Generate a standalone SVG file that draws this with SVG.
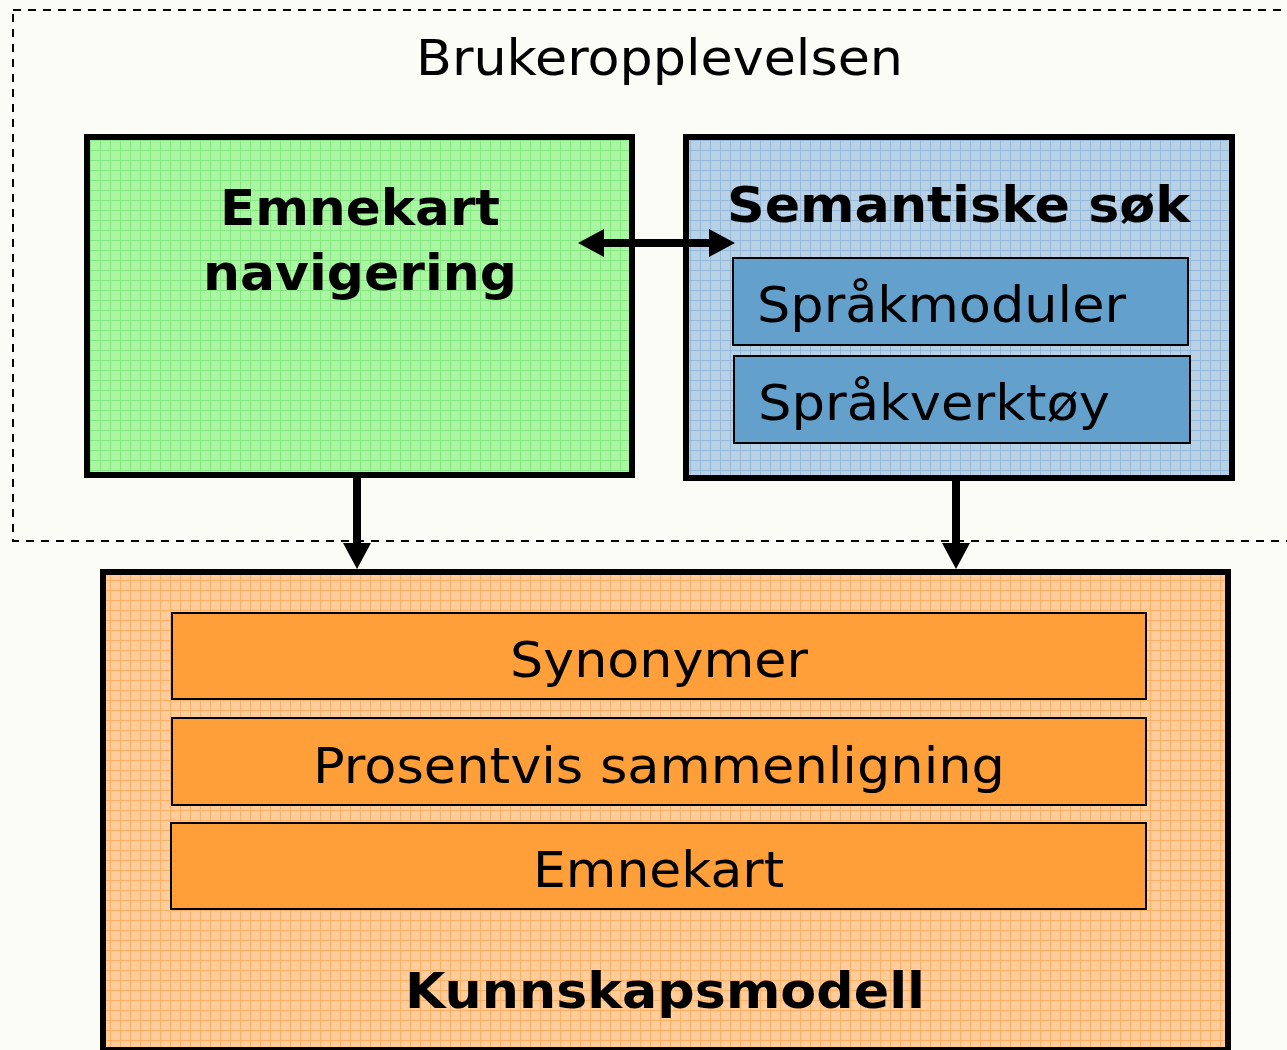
<svg xmlns="http://www.w3.org/2000/svg" width="1287" height="1050" viewBox="0 0 1287 1050">
<defs>
<pattern id="gGreen" width="10" height="10" patternUnits="userSpaceOnUse">
<rect width="10" height="10" fill="#AAF6A2"/>
<path d="M0 0.5H10M0.5 0V10" stroke="#86E880" stroke-width="1"/>
</pattern>
<pattern id="gBlue" width="10" height="10" patternUnits="userSpaceOnUse">
<rect width="10" height="10" fill="#B8D1E5"/>
<path d="M0 0.5H10M0.5 0V10" stroke="#94B9DA" stroke-width="1"/>
</pattern>
<pattern id="gOrange" width="10" height="10" patternUnits="userSpaceOnUse">
<rect width="10" height="10" fill="#FFCD9C"/>
<path d="M0 0.5H10M0.5 0V10" stroke="#FFB064" stroke-width="1"/>
</pattern>
</defs>
<style>
.t{font-family:"DejaVu Sans","Verdana",sans-serif;fill:#000}
.b{font-weight:bold}
.big{stroke:#000;stroke-width:6}
.inB{fill:#63A0CC;stroke:#000;stroke-width:2}
.inO{fill:#FF9F3A;stroke:#000;stroke-width:2}
.con{stroke:#000;stroke-width:8;fill:none}
</style>
<rect width="1287" height="1050" fill="#FCFCF6"/>
<g id="container">
<rect x="13" y="10" width="1290" height="531" fill="none" stroke="#000" stroke-width="2" stroke-dasharray="8,7"/>
<text class="t" x="416" y="75" font-size="50" textLength="487" lengthAdjust="spacingAndGlyphs">Brukeropplevelsen</text>
</g>
<g id="emnekart-navigering">
<rect class="big" x="87" y="137" width="545" height="338" fill="url(#gGreen)"/>
<text class="t b" x="220" y="225" font-size="49" textLength="280" lengthAdjust="spacingAndGlyphs">Emnekart</text>
<text class="t b" x="203" y="290" font-size="49" textLength="314" lengthAdjust="spacingAndGlyphs">navigering</text>
</g>
<g id="semantiske-sok">
<rect class="big" x="686" y="137" width="546" height="341" fill="url(#gBlue)"/>
<text class="t b" x="727" y="222" font-size="49" textLength="463" lengthAdjust="spacingAndGlyphs">Semantiske søk</text>
</g>
<g id="sprakmoduler">
<rect class="inB" x="733" y="258" width="455" height="87"/>
<text class="t" x="757" y="322" font-size="49" textLength="369" lengthAdjust="spacingAndGlyphs">Språkmoduler</text>
</g>
<g id="sprakverktoy">
<rect class="inB" x="734" y="356" width="456" height="87"/>
<text class="t" x="758" y="420" font-size="49" textLength="352" lengthAdjust="spacingAndGlyphs">Språkverktøy</text>
</g>
<g id="kunnskapsmodell">
<rect class="big" x="103" y="572" width="1125" height="478" fill="url(#gOrange)"/>
<text class="t b" x="405" y="1008" font-size="49" textLength="520" lengthAdjust="spacingAndGlyphs">Kunnskapsmodell</text>
</g>
<g id="synonymer">
<rect class="inO" x="172" y="613" width="974" height="86"/>
<text class="t" x="510" y="677" font-size="49" textLength="298" lengthAdjust="spacingAndGlyphs">Synonymer</text>
</g>
<g id="prosentvis">
<rect class="inO" x="172" y="718" width="974" height="87"/>
<text class="t" x="313" y="783" font-size="49" textLength="692" lengthAdjust="spacingAndGlyphs">Prosentvis sammenligning</text>
</g>
<g id="emnekart">
<rect class="inO" x="171" y="823" width="975" height="86"/>
<text class="t" x="533" y="887" font-size="49" textLength="251" lengthAdjust="spacingAndGlyphs">Emnekart</text>
</g>
<g id="connectors">
<line class="con" x1="602" y1="243" x2="711" y2="243"/>
<path d="M578 243L604 229V257Z M735 243L709 229V257Z" fill="#000"/>
<line class="con" x1="357" y1="477" x2="357" y2="547"/>
<path d="M357 569L343 543H371Z" fill="#000"/>
<line class="con" x1="956" y1="480" x2="956" y2="547"/>
<path d="M956 569L942 543H970Z" fill="#000"/>
</g>
</svg>
